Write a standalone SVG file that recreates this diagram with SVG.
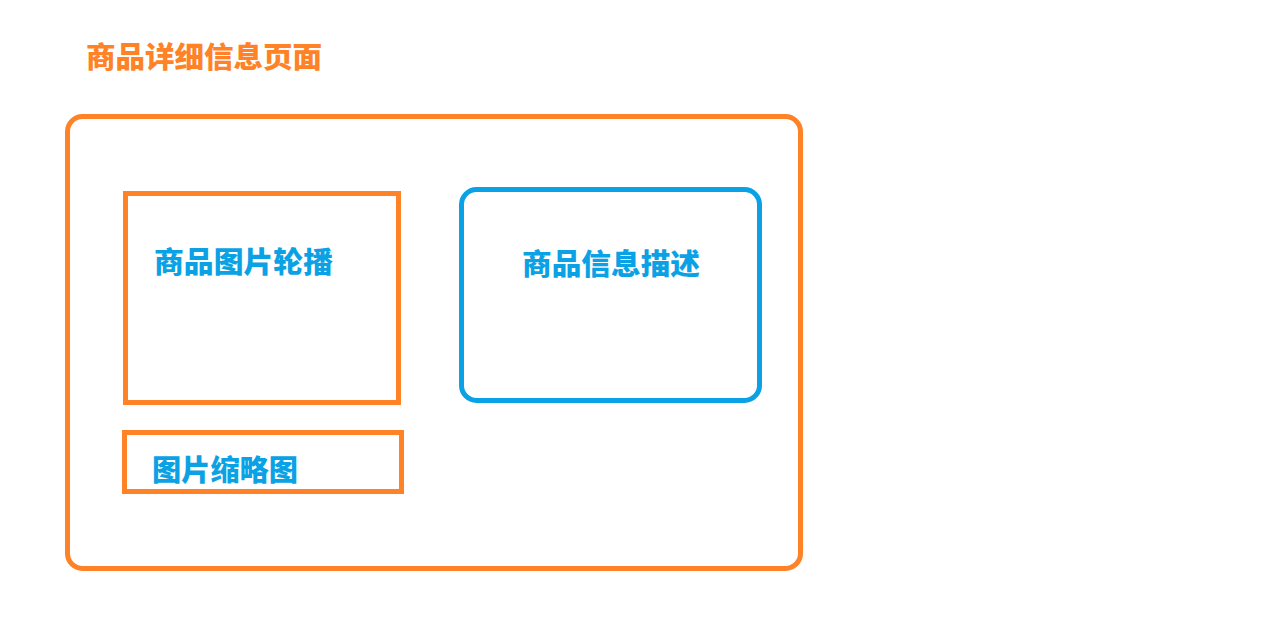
<svg xmlns="http://www.w3.org/2000/svg" width="1276" height="619" viewBox="0 0 1276 619">
<style>
.o{fill:none;stroke:#FF8226;stroke-width:5}
.b{fill:none;stroke:#0BA2E5;stroke-width:5}
.t{font-family:"Noto Sans CJK SC","Noto Sans",sans-serif;font-weight:900;font-size:29px}
.to{fill:#FF8226}
.tb{fill:#0BA2E5}
</style>
<rect width="1276" height="619" fill="#fff"/>
<g id="title"><text class="t to" x="86" y="68" textLength="236" lengthAdjust="spacingAndGlyphs">商品详细信息页面</text></g>
<g id="page"><rect class="o" x="67.5" y="116.5" width="733" height="452" rx="15"/></g>
<g id="carousel"><rect class="o" x="125.5" y="193.5" width="273" height="209"/>
<text class="t tb" x="154" y="273" textLength="179" lengthAdjust="spacingAndGlyphs">商品图片轮播</text></g>
<g id="info"><rect class="b" x="461.5" y="189.5" width="298" height="211" rx="15"/>
<text class="t tb" x="522" y="275" textLength="178" lengthAdjust="spacingAndGlyphs">商品信息描述</text></g>
<g id="thumbs"><rect class="o" x="124.5" y="432.5" width="277" height="59"/>
<text class="t tb" x="152" y="481" textLength="146" lengthAdjust="spacingAndGlyphs">图片缩略图</text></g>
<g id="connectors"></g>
</svg>
